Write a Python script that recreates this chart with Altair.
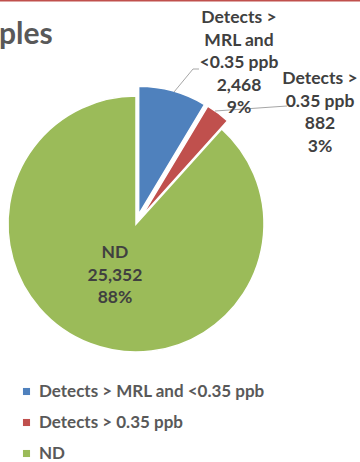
import math
import altair as alt
import pandas as pd

# ---- data ----
categories = ["Detects > MRL and <0.35 ppb", "Detects > 0.35 ppb", "ND"]
label_names = ["Detects >\nMRL and\n<0.35 ppb", "Detects >\n0.35 ppb", "ND"]
values = [2468, 882, 25352]

# ---- styles ----
colors = ["#4f81bd", "#c0504d", "#9bbb59"]
explode = [10, 10, 0]
CX, CY, R = 136, 224, 128
label_pos = {  # x centre, y of first line of each data label block
    categories[0]: (239, 18),
    categories[1]: (320, 79),
    categories[2]: (115, 253),
}
FONT = "Lato"

total = sum(values)
rows = []
cum = 0
for cat, ln, v in zip(categories, label_names, values):
    start = cum / total
    cum += v
    end = cum / total
    rows.append(dict(category=cat, value=v, start=start, end=end,
                     label=f"{ln}\n{v:,}\n{round(v / total * 100)}%"))
df = pd.DataFrame(rows)

theta_scale = alt.Scale(domain=[0, 1], range=[0, 2 * math.pi])
color_scale = alt.Scale(domain=categories, range=colors)

layers = []
for i, cat in enumerate(categories):
    s, e = rows[i]["start"], rows[i]["end"]
    mid = (s + e) * math.pi
    dx = explode[i] * math.sin(mid)
    dy = -explode[i] * math.cos(mid)
    layers.append(
        alt.Chart(df)
        .transform_filter(alt.datum.category == cat)
        .mark_arc(outerRadius=R, stroke="white", strokeWidth=1.5)
        .encode(
            theta=alt.Theta("start:Q", scale=theta_scale),
            theta2="end:Q",
            color=alt.Color(
                "category:N", scale=color_scale, sort=categories,
                legend=alt.Legend(
                    title=None, orient="none", legendX=18, legendY=383,
                    symbolType="square", symbolSize=50, symbolStrokeWidth=0,
                    labelFont=FONT, labelFontSize=17, labelFontWeight="bold",
                    labelColor="#595959", rowPadding=13, labelOffset=4,
                    labelLimit=400,
                ),
            ),
            x=alt.value(CX + dx),
            y=alt.value(CY + dy),
        )
    )

one = pd.DataFrame({"k": [0]})
# leader lines
leader = [
    ((199, 69), (193, 69)),
    ((193, 69), (174, 92)),
    ((215, 111), (287, 106)),
]
for (x1, y1), (x2, y2) in leader:
    layers.append(
        alt.Chart(one).mark_rule(color="#a6a6a6", strokeWidth=1).encode(
            x=alt.value(x1), y=alt.value(y1), x2=alt.value(x2), y2=alt.value(y2)
        )
    )

for cat in categories:
    lx, ly = label_pos[cat]
    layers.append(
        alt.Chart(df)
        .transform_filter(alt.datum.category == cat)
        .mark_text(font=FONT, fontSize=17.5, fontWeight="bold", color="#404040",
                   lineBreak="\n", lineHeight=22.6, align="center", baseline="middle")
        .encode(text="label:N", x=alt.value(lx), y=alt.value(ly))
    )

# title fragment and top border
layers.append(
    alt.Chart(one).mark_text(font=FONT, fontSize=30, fontWeight="bold", color="#595959",
                             align="left", baseline="alphabetic")
    .encode(text=alt.value("ples"), x=alt.value(-1), y=alt.value(44))
)
layers.append(
    alt.Chart(one).mark_rule(color="#c0504d", strokeWidth=2).encode(
        x=alt.value(0), x2=alt.value(360), y=alt.value(0.5)
    )
)

chart = (
    alt.layer(*layers)
    .properties(width=360, height=462, padding=0, autosize="none", background="white")
    .configure_view(stroke=None)
)

chart.save("out.html", embed_options={"renderer": "svg", "actions": False})
